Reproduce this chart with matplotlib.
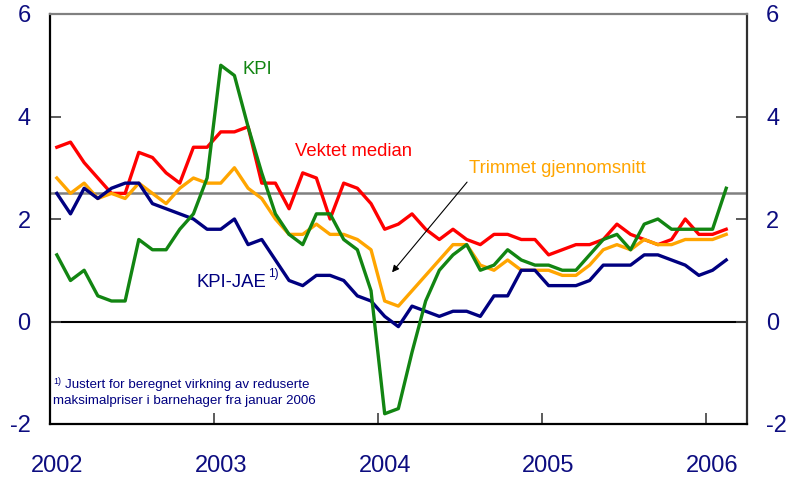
import matplotlib
matplotlib.use("Agg")
import matplotlib.pyplot as plt
import numpy as np

plt.rcParams['font.family'] = ['Liberation Sans', 'DejaVu Sans']

# Monthly data, Jan 2002 - Feb 2006
kpi = [1.3, 0.8, 1.0, 0.5, 0.4, 0.4, 1.6, 1.4, 1.4, 1.8, 2.1, 2.8,
       5.0, 4.8, 3.8, 2.9, 2.1, 1.7, 1.5, 2.1, 2.1, 1.6, 1.4, 0.6,
       -1.8, -1.7, -0.6, 0.4, 1.0, 1.3, 1.5, 1.0, 1.1, 1.4, 1.2, 1.1,
       1.1, 1.0, 1.0, 1.3, 1.6, 1.7, 1.4, 1.9, 2.0, 1.8, 1.8, 1.8,
       1.8, 2.6]
kpi_jae = [2.5, 2.1, 2.6, 2.4, 2.6, 2.7, 2.7, 2.3, 2.2, 2.1, 2.0, 1.8,
           1.8, 2.0, 1.5, 1.6, 1.2, 0.8, 0.7, 0.9, 0.9, 0.8, 0.5, 0.4,
           0.1, -0.1, 0.3, 0.2, 0.1, 0.2, 0.2, 0.1, 0.5, 0.5, 1.0, 1.0,
           0.7, 0.7, 0.7, 0.8, 1.1, 1.1, 1.1, 1.3, 1.3, 1.2, 1.1, 0.9,
           1.0, 1.2]
vektet_median = [3.4, 3.5, 3.1, 2.8, 2.5, 2.5, 3.3, 3.2, 2.9, 2.7, 3.4, 3.4,
                 3.7, 3.7, 3.8, 2.7, 2.7, 2.2, 2.9, 2.8, 2.0, 2.7, 2.6, 2.3,
                 1.8, 1.9, 2.1, 1.8, 1.6, 1.8, 1.6, 1.5, 1.7, 1.7, 1.6, 1.6,
                 1.3, 1.4, 1.5, 1.5, 1.6, 1.9, 1.7, 1.6, 1.5, 1.6, 2.0, 1.7,
                 1.7, 1.8]
trimmet = [2.8, 2.5, 2.7, 2.4, 2.5, 2.4, 2.7, 2.5, 2.3, 2.6, 2.8, 2.7,
           2.7, 3.0, 2.6, 2.4, 2.0, 1.7, 1.7, 1.9, 1.7, 1.7, 1.6, 1.4,
           0.4, 0.3, 0.6, 0.9, 1.2, 1.5, 1.5, 1.1, 1.0, 1.2, 1.0, 1.0,
           1.0, 0.9, 0.9, 1.1, 1.4, 1.5, 1.4, 1.6, 1.5, 1.5, 1.6, 1.6,
           1.6, 1.7]
year_labels = ["2002", "2003", "2004", "2005", "2006"]
y_ticks = [-2, 0, 2, 4, 6]
target = 2.5

NAVY = "#0d0d80"
x = np.arange(len(kpi))

fig = plt.figure(figsize=(7.9, 4.8), dpi=100)
ax = fig.add_axes([50/790, 1-424/480, (746.7-50)/790, (424-14)/480])

ax.axhline(target, color="#808080", lw=1.8, zorder=1)
ax.axhline(0, color="black", lw=1.5, zorder=1)

lw = 2.4
ax.plot(x, vektet_median, color="#ff0000", lw=lw, zorder=3)
ax.plot(x, trimmet, color="#ffa500", lw=lw, zorder=3)
ax.plot(x, kpi_jae, color="#000080", lw=lw, zorder=3)
ax.plot(x, kpi, color="#128512", lw=lw, zorder=4)

ax.set_xlim(-0.5, len(kpi) + 0.5)
ax.set_ylim(-2, 6)

ax.set_xticks([12 * i for i in range(len(year_labels))])
ax.set_xticklabels(year_labels)
ax.set_xticks([12 * i - 0.5 for i in range(1, len(year_labels))], minor=True)
ax.tick_params(axis="x", which="major", length=0, pad=22, labelsize=17, labelcolor=NAVY)
ax.tick_params(axis="x", which="minor", direction="in", length=8, width=1.2, color="#404040")

ax.set_yticks(y_ticks)
ax.set_yticklabels([str(v) for v in y_ticks])
ax.tick_params(axis="y", which="major", direction="in", length=8, width=1.2,
               left=True, right=True, labelleft=True, labelright=True,
               labelsize=17, labelcolor=NAVY, pad=14, color="#404040")

for s in ["left", "bottom"]:
    ax.spines[s].set_color("black")
    ax.spines[s].set_linewidth(1.6)
ax.spines["right"].set_color("#303030")
ax.spines["right"].set_linewidth(1.6)
ax.spines["top"].set_color("#808080")
ax.spines["top"].set_linewidth(1.6)

# Series labels
FS = 13.3
ax.text(13.56, 4.91, "KPI", color="#128512", fontsize=FS, va="center", ha="left")
ax.text(17.44, 3.31, "Vektet median", color="#ff0000", fontsize=FS, va="center", ha="left")
ax.text(30.17, 2.99, "Trimmet gjennomsnitt", color="#ffa500", fontsize=FS, va="center", ha="left")
jae = ax.text(10.26, 0.77, "KPI-JAE", color="#000080", fontsize=FS, va="center", ha="left")
ax.annotate("1)", xy=(1.0, 0.62), xycoords=jae, xytext=(1, 0), textcoords="offset points",
            color="#000080", fontsize=8.5, va="bottom", ha="left")

ax.annotate("", xy=(24.54, 0.96), xytext=(30.03, 2.72),
            arrowprops=dict(arrowstyle="-|>", color="black", lw=0.8,
                            mutation_scale=10, shrinkA=0, shrinkB=0))

# Footnote
ax.text(-0.28, -1.17, "1)", color="#000080", fontsize=6.5, va="center", ha="left")
ax.text(0.6, -1.24, "Justert for beregnet virkning av reduserte",
        color="#000080", fontsize=9.6, va="center", ha="left")
ax.text(-0.28, -1.56, "maksimalpriser i barnehager fra januar 2006",
        color="#000080", fontsize=9.6, va="center", ha="left")

fig.savefig("out.png", dpi=100)
